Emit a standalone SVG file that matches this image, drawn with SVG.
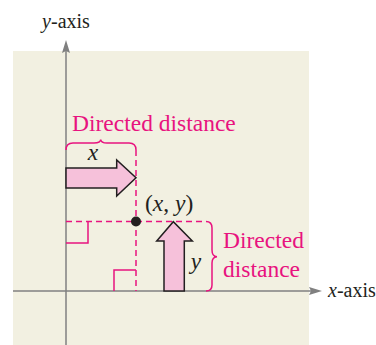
<svg xmlns="http://www.w3.org/2000/svg" width="376" height="345" viewBox="0 0 376 345">
<style>
.axis{stroke:#808080;stroke-width:1.5;fill:none}
.dash{stroke:#e8137f;stroke-width:1.5;stroke-dasharray:6,4;fill:none}
.mag{stroke:#e8137f;stroke-width:1.5;fill:none}
.arrow{fill:#f6c1da;stroke:#231f20;stroke-width:1.5;stroke-linejoin:miter}
.lbl{font-family:"Liberation Serif",serif;fill:#231f20}
.pink{font-family:"Liberation Serif",serif;fill:#e8137f;font-size:23.5px}
.it{font-style:italic}
</style>
<rect x="13" y="51" width="296" height="294" fill="#f2f0e1"/>
<g id="connectors">
<line class="axis" x1="66" y1="50" x2="66" y2="345"/>
<line class="axis" x1="13" y1="291" x2="312" y2="291"/>
<path d="M66,40 L70,53 L66,51 L62,53 Z" fill="#808080"/>
<path d="M322,291 L309,295 L311,291 L309,287 Z" fill="#808080"/>
<line class="dash" x1="136" y1="150" x2="136" y2="291"/>
<line class="dash" x1="66" y1="221.5" x2="206" y2="221.5"/>
<path class="mag" d="M66,243 H88 V221.5"/>
<path class="mag" d="M114,291 V270 H136"/>
<path class="mag" d="M66,150 Q66,143 73,143 L94,143 Q100.5,143 100.7,139.5 Q101,143 107,143 L129,143 Q136,143 136,150"/>
<path class="mag" d="M206,221.5 Q212,221.5 212,228 L212,250 Q212,256.5 217,256.7 Q212,257 212,263 L212,285 Q212,291 206,291"/>
</g>
<g id="y-axis-label"><text class="lbl" x="66" y="28" font-size="20" text-anchor="middle"><tspan class="it">y</tspan>-axis</text></g>
<g id="x-axis-label"><text class="lbl" x="328" y="297" font-size="20"><tspan class="it">x</tspan>-axis</text></g>
<g id="top-label"><text class="pink" x="72" y="131">Directed distance</text></g>
<g id="right-label"><text class="pink" x="223" y="248">Directed</text><text class="pink" x="223" y="277">distance</text></g>
<g id="x-arrow">
<path class="arrow" d="M66,168 H116.7 V160 L136,177.7 L116.7,196 V188 H66 Z"/>
<text class="lbl it" x="93" y="160" font-size="23.5" text-anchor="middle">x</text>
</g>
<g id="y-arrow">
<path class="arrow" d="M164,291 V241 H156.7 L173.3,221.7 L192.3,241 H184.3 V291 Z"/>
<text class="lbl it" x="196" y="269" font-size="23.5" text-anchor="middle">y</text>
</g>
<g id="point">
<circle cx="136" cy="221.5" r="5" fill="#231f20"/>
<text class="lbl" x="145" y="211" font-size="23.5">(<tspan class="it">x</tspan>, <tspan class="it">y</tspan>)</text>
</g>
</svg>
